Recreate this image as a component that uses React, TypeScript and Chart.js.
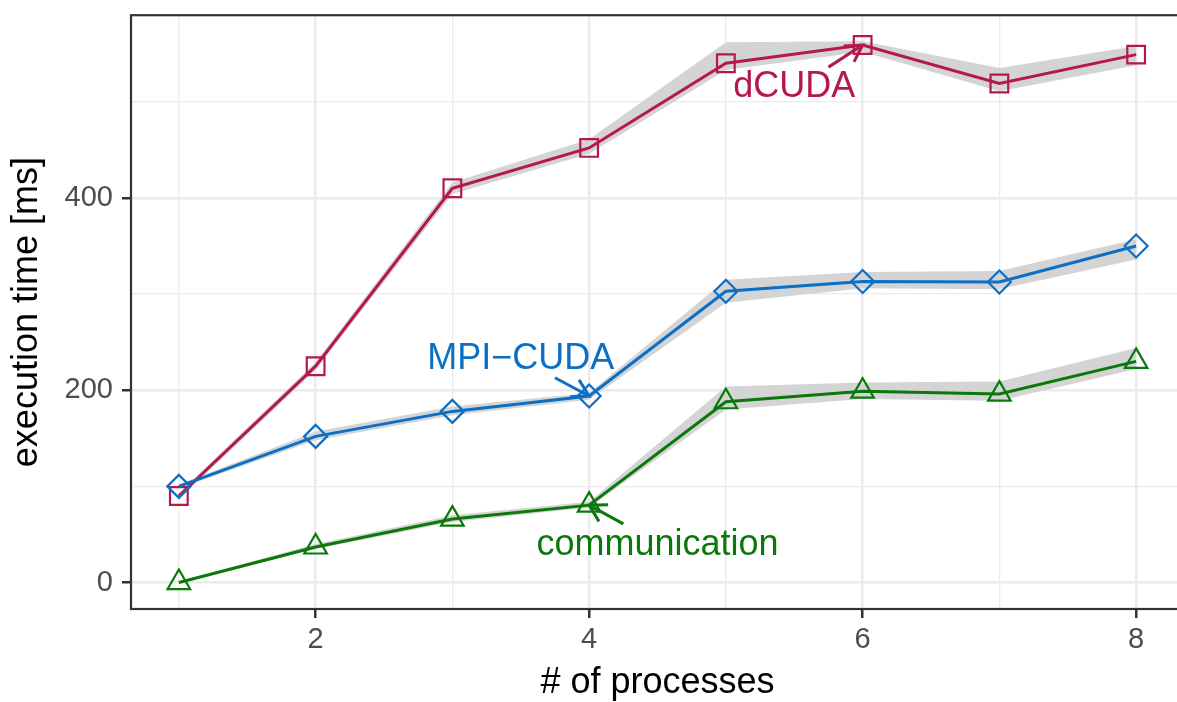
import React, { useEffect, useRef } from 'react';
import { Chart, registerables } from 'chart.js';

Chart.register(...registerables);

// ---------------- data ----------------
const processes = [1, 2, 3, 4, 5, 6, 7, 8];

const dcudaTime = [90, 225, 410, 452, 540, 559, 519, 549];
const dcudaLow = [87, 221, 404, 446, 533, 552, 511, 538];
const dcudaHigh = [93, 229, 416, 461, 562, 563, 535, 558];

const mpiTime = [100, 152, 178, 194, 303, 313, 312.5, 350];
const mpiLow = [98, 148, 174, 190, 291, 306, 305, 336];
const mpiHigh = [102, 157, 183, 197, 315, 323, 324, 357];

const commTime = [0, 37, 66, 80.5, 188, 199, 196, 230];
const commLow = [-1, 35, 63, 78, 180, 191, 189, 222];
const commHigh = [1, 40, 70, 84, 204, 208, 209, 244];

const xTickValues = [1, 2, 3, 4, 5, 6, 7, 8];
const xLabeledTicks = [2, 4, 6, 8];
const yTickValues = [0, 100, 200, 300, 400, 500];
const yLabeledTicks = [0, 200, 400];

const seriesNames = ['dCUDA', 'MPI\u2212CUDA', 'communication'];
const xTitle = '# of processes';
const yTitle = 'execution time [ms]';

// ---------------- styles ----------------
const FONT = "'Liberation Sans', Arial, Helvetica, sans-serif";
const colDcuda = '#B5174F';
const colMpi = '#0B70C5';
const colComm = '#0A780A';
const ribbonColor = '#D4D4D4';
const gridColor = '#EBEBEB';
const axisDark = '#333333';
const tickText = '#4D4D4D';

// annotation layout (label centre and arrow start, in data units; arrow tip = a data point)
const annotationLayout = [
  { text: seriesNames[0], color: colDcuda, labelX: 5.5, labelY: 515, startX: 5.75, startY: 536, series: dcudaTime, idx: 5 },
  { text: seriesNames[1], color: colMpi, labelX: 3.5, labelY: 232, startX: 3.75, startY: 213, series: mpiTime, idx: 3 },
  { text: seriesNames[2], color: colComm, labelX: 4.5, labelY: 39, startX: 4.25, startY: 61, series: commTime, idx: 3 },
];

const pts = (ys: number[]) => processes.map((p, i) => ({ x: p, y: ys[i] }));

const decorPlugin = {
  id: 'decor',
  afterDatasetsDraw(chart: any) {
    const { ctx, scales } = chart;
    const xs = scales.x;
    const ys = scales.y;
    ctx.save();
    annotationLayout.forEach((a) => {
      const tx = xs.getPixelForValue(processes[a.idx]);
      const ty = ys.getPixelForValue(a.series[a.idx]);
      const sx = xs.getPixelForValue(a.startX);
      const sy = ys.getPixelForValue(a.startY);
      ctx.strokeStyle = a.color;
      ctx.lineWidth = 3;
      ctx.lineCap = 'butt';
      ctx.beginPath();
      ctx.moveTo(sx, sy);
      ctx.lineTo(tx, ty);
      const ang = Math.atan2(sy - ty, sx - tx);
      const L = 19;
      const w = (30 * Math.PI) / 180;
      ctx.moveTo(tx + L * Math.cos(ang + w), ty + L * Math.sin(ang + w));
      ctx.lineTo(tx, ty);
      ctx.lineTo(tx + L * Math.cos(ang - w), ty + L * Math.sin(ang - w));
      ctx.stroke();

      ctx.fillStyle = a.color;
      ctx.font = `36px ${FONT}`;
      ctx.textAlign = 'center';
      ctx.textBaseline = 'middle';
      ctx.fillText(a.text, xs.getPixelForValue(a.labelX), ys.getPixelForValue(a.labelY));
    });
    ctx.restore();
  },
  afterDraw(chart: any) {
    const { ctx, chartArea } = chart;
    ctx.save();
    // panel border
    ctx.strokeStyle = axisDark;
    ctx.lineWidth = 2.2;
    ctx.strokeRect(chartArea.left, chartArea.top, chartArea.right - chartArea.left, chartArea.bottom - chartArea.top);
    // axis titles
    ctx.fillStyle = '#000000';
    ctx.font = `36px ${FONT}`;
    ctx.textAlign = 'center';
    ctx.textBaseline = 'alphabetic';
    ctx.fillText(xTitle, (chartArea.left + chartArea.right) / 2, 693);
    ctx.translate(37, (chartArea.top + chartArea.bottom) / 2);
    ctx.rotate(-Math.PI / 2);
    ctx.fillText(yTitle, 0, 0);
    ctx.restore();
  },
};

export default function App() {
  const ref = useRef<HTMLCanvasElement | null>(null);

  useEffect(() => {
    if (!ref.current) return;
    const ribbon = (lo: number[], hi: number[]) => [
      {
        data: pts(lo),
        borderColor: 'rgba(0,0,0,0)',
        borderWidth: 0,
        pointRadius: 0,
        fill: false,
        order: 10,
      },
      {
        data: pts(hi),
        borderColor: 'rgba(0,0,0,0)',
        borderWidth: 0,
        pointRadius: 0,
        fill: '-1',
        backgroundColor: ribbonColor,
        order: 10,
      },
    ];
    const line = (ys: number[], color: string, style: string, radius: number, order: number, label: string) => ({
      label,
      data: pts(ys),
      borderColor: color,
      borderWidth: 3,
      pointStyle: style,
      pointRadius: radius,
      pointBorderWidth: 2.2,
      pointBorderColor: color,
      pointBackgroundColor: 'rgba(0,0,0,0)',
      fill: false,
      tension: 0,
      order,
    });

    const chart = new Chart(ref.current, {
      type: 'line',
      data: {
        datasets: [
          ...ribbon(dcudaLow, dcudaHigh),
          ...ribbon(mpiLow, mpiHigh),
          ...ribbon(commLow, commHigh),
          line(dcudaTime, colDcuda, 'rect', 12.5, 3, seriesNames[0]),
          line(mpiTime, colMpi, 'rectRot', 11.5, 2, seriesNames[1]),
          line(commTime, colComm, 'triangle', 13, 1, seriesNames[2]),
        ] as any,
      },
      options: {
        animation: false,
        responsive: false,
        devicePixelRatio: 1,
        events: [],
        layout: { padding: { top: 13, right: 16, left: 0, bottom: 0 } },
        plugins: { legend: { display: false }, tooltip: { enabled: false } },
        font: { family: FONT },
        scales: {
          x: {
            type: 'linear',
            min: 0.65,
            max: 8.35,
            afterBuildTicks: (s: any) => {
              s.ticks = xTickValues.map((v) => ({ value: v }));
            },
            afterFit: (s: any) => {
              s.height = 93;
              s.paddingLeft = 0;
              s.paddingRight = 0;
            },
            border: { display: false },
            grid: {
              color: gridColor,
              lineWidth: (c: any) => (xLabeledTicks.includes(c.tick?.value) ? 2.5 : 1.3),
              drawTicks: true,
              tickLength: 9,
              tickWidth: 2.5,
              tickColor: (c: any) => (xLabeledTicks.includes(c.tick?.value) ? axisDark : 'rgba(0,0,0,0)'),
            },
            ticks: {
              autoSkip: false,
              maxRotation: 0,
              padding: 5,
              color: tickText,
              font: { family: FONT, size: 29 },
              callback: (v: any) => (xLabeledTicks.includes(Number(v)) ? String(v) : ''),
            },
          },
          y: {
            type: 'linear',
            min: -27.5,
            max: 590,
            afterBuildTicks: (s: any) => {
              s.ticks = yTickValues.map((v) => ({ value: v }));
            },
            afterFit: (s: any) => {
              s.width = 131;
              s.paddingTop = 0;
              s.paddingBottom = 0;
            },
            border: { display: false },
            grid: {
              color: gridColor,
              lineWidth: (c: any) => (yLabeledTicks.includes(c.tick?.value) ? 2.5 : 1.3),
              drawTicks: true,
              tickLength: 9,
              tickWidth: 2.5,
              tickColor: (c: any) => (yLabeledTicks.includes(c.tick?.value) ? axisDark : 'rgba(0,0,0,0)'),
            },
            ticks: {
              autoSkip: false,
              padding: 9,
              color: tickText,
              font: { family: FONT, size: 29 },
              callback: (v: any) => (yLabeledTicks.includes(Number(v)) ? String(v) : ''),
            },
          },
        },
      } as any,
      plugins: [decorPlugin],
    });
    return () => chart.destroy();
  }, []);

  return (
    <div
      style={{
        position: 'fixed',
        left: 0,
        top: 0,
        width: 1177,
        height: 702,
        overflow: 'hidden',
        background: '#ffffff',
      }}
    >
      <canvas ref={ref} width={1200} height={702} style={{ display: 'block', width: 1200, height: 702 }} />
    </div>
  );
}
